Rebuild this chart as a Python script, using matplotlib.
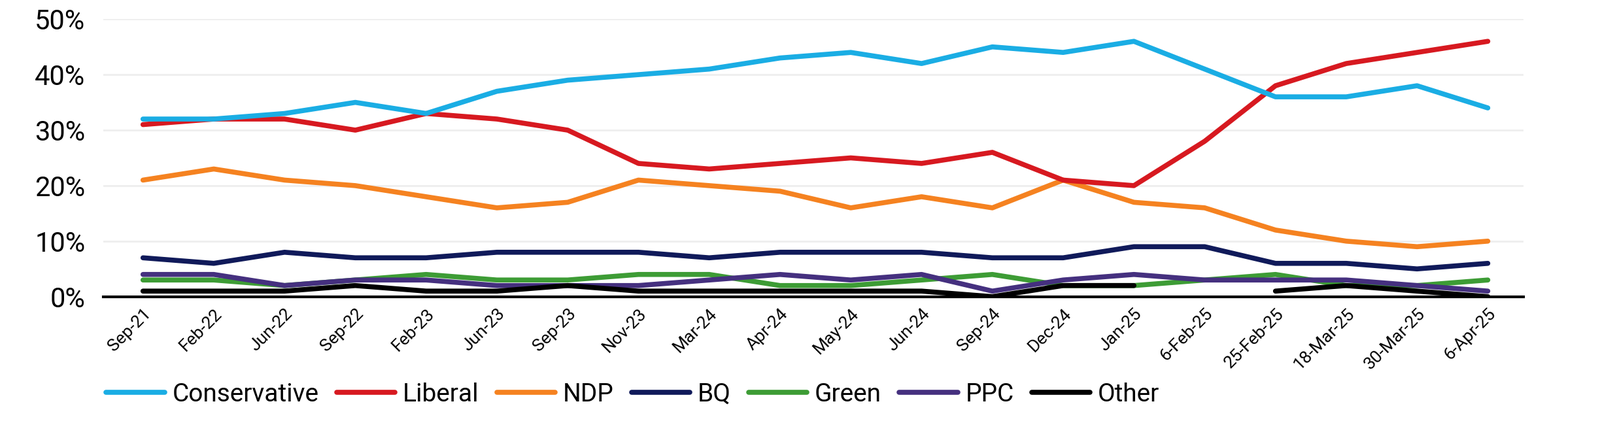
import matplotlib
matplotlib.use("Agg")
import matplotlib.pyplot as plt
import numpy as np

dates = ["Sep-21","Feb-22","Jun-22","Sep-22","Feb-23","Jun-23","Sep-23","Nov-23","Mar-24","Apr-24",
         "May-24","Jun-24","Sep-24","Dec-24","Jan-25","6-Feb-25","25-Feb-25","18-Mar-25","30-Mar-25","6-Apr-25"]
conservative = [32,32,33,35,33,37,39,40,41,43,44,42,45,44,46,41,36,36,38,34]
liberal = [31,32,32,30,33,32,30,24,23,24,25,24,26,21,20,28,38,42,44,46]
ndp = [21,23,21,20,18,16,17,21,20,19,16,18,16,21,17,16,12,10,9,10]
bq = [7,6,8,7,7,8,8,8,7,8,8,8,7,7,9,9,6,6,5,6]
green = [3,3,2,3,4,3,3,4,4,2,2,3,4,2,2,3,4,2,2,3]
ppc = [4,4,2,3,3,2,2,2,3,4,3,4,1,3,4,3,3,3,2,1]
other = [1,1,1,2,1,1,2,1,1,1,1,1,0,2,2,np.nan,1,2,1,0]

series = [("Conservative", conservative, "#1AADE4"),
          ("Liberal", liberal, "#D71920"),
          ("NDP", ndp, "#F58220"),
          ("BQ", bq, "#101A5A"),
          ("Green", green, "#3D9C35"),
          ("PPC", ppc, "#45307F"),
          ("Other", other, "#000000")]

plt.rcParams["font.family"] = "Roboto"
fig = plt.figure(figsize=(24.47, 6.5), dpi=100)
ax = fig.add_axes([0.0646, 0.302, 0.8874, 0.653])
x = np.arange(len(dates))
order = ["BQ","Green","PPC","Other","NDP","Liberal","Conservative"]
for name, vals, col in series:
    ax.plot(x, vals, color=col, lw=5.5, label=name, zorder=3 + order.index(name) * 0.1,
            solid_capstyle="round", solid_joinstyle="round")
ax.set_xlim(-0.56, len(dates) - 0.5)
ax.set_ylim(0, 50)
ax.set_yticks(range(0, 51, 10))
ax.set_yticklabels([f"{v}%" for v in range(0, 51, 10)], fontsize=30)
ax.set_xticks(x)
ax.set_xticklabels(dates, rotation=45, ha="right", rotation_mode="anchor", fontsize=19)
ax.grid(axis="y", color="#EEEEEE", lw=2)
ax.set_axisbelow(True)
for s in ["top", "right", "left"]:
    ax.spines[s].set_visible(False)
ax.spines["bottom"].set_linewidth(3)
ax.tick_params(axis="both", length=0)
ax.tick_params(axis="y", pad=20)
ax.tick_params(axis="x", pad=10)
fig.legend(loc="lower left", bbox_to_anchor=(0.052, -0.01), ncol=7, frameon=False,
           fontsize=28, handlelength=2.3, columnspacing=0.7, handletextpad=0.3)
fig.savefig("out.png", dpi=100)
